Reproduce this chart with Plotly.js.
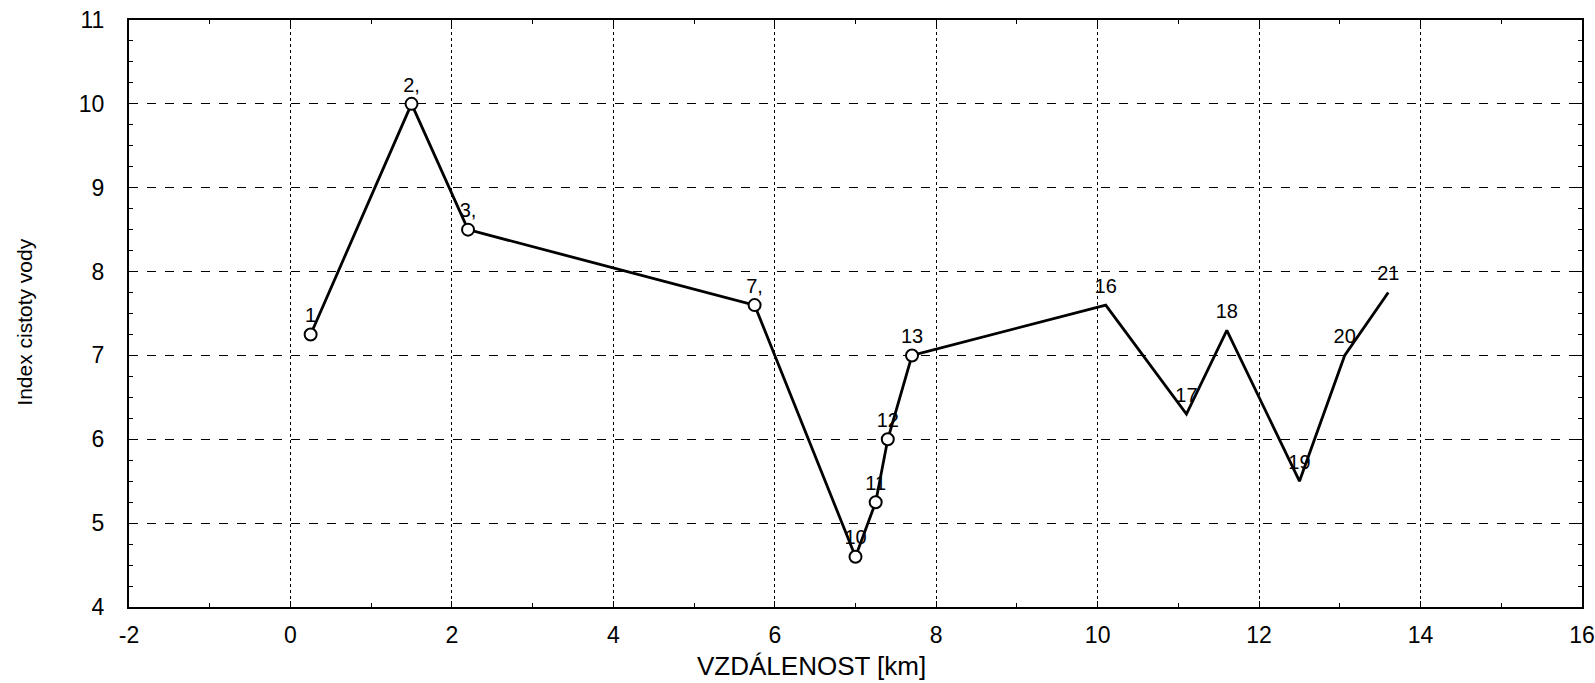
<!DOCTYPE html>
<html>
<head>
<meta charset="utf-8">
<script src="https://cdn.plot.ly/plotly-3.0.1.min.js"></script>
<style>html,body{margin:0;padding:0;background:#fff;}#chart{width:1595px;height:683px;}</style>
</head>
<body>
<div id="chart"></div>
<script>
const distanceKm = [0.25, 1.5, 2.2, 5.75, 7.0, 7.25, 7.4, 7.7, 10.1, 11.1, 11.6, 12.5, 13.06, 13.6];
const waterIndex = [7.25, 10.0, 8.5, 7.6, 4.6, 5.25, 6.0, 7.0, 7.6, 6.3, 7.3, 5.5, 7.0, 7.75];
const pointLabels = ["1", "2,", "3,", "7,", "10", "11", "12", "13", "16", "17", "18", "19", "20", "21"];
const markedCount = 8;
const xTicks = [-2, 0, 2, 4, 6, 8, 10, 12, 14, 16];
const yTicks = [4, 5, 6, 7, 8, 9, 10, 11];
const xTitle = "VZDÁLENOST [km]";
const yTitle = "Index cistoty vody";

const font = {family: "Liberation Sans, Arial, sans-serif", color: "#000"};

const traces = [
  {
    x: distanceKm, y: waterIndex, mode: "lines+markers+text", text: pointLabels,
    textposition: "top center", textfont: {family: font.family, size: 20, color: "#000"},
    marker: {size: 10, opacity: 0},
    line: {color: "#000", width: 2.8}, hoverinfo: "skip", cliponaxis: false
  },
  {
    x: distanceKm.slice(0, markedCount), y: waterIndex.slice(0, markedCount), mode: "markers",
    marker: {symbol: "circle", size: 12, color: "#fff", line: {color: "#000", width: 2}},
    hoverinfo: "skip", cliponaxis: false
  }
];

const axisCommon = {
  showline: true, linecolor: "#000", linewidth: 2, mirror: "allticks",
  ticks: "inside", ticklen: 6, tickcolor: "#000", tickwidth: 1,
  showgrid: true, gridcolor: "#000", gridwidth: 1, automargin: false,
  zeroline: false, tickfont: {family: font.family, size: 23, color: "#000"}
};

const layout = {
  width: 1595, height: 683,
  margin: {l: 129, r: 13, t: 20, b: 76},
  paper_bgcolor: "#fff", plot_bgcolor: "#fff",
  showlegend: false,
  xaxis: Object.assign({}, axisCommon, {
    range: [-2, 16], tickvals: xTicks, ticktext: xTicks.map(String),
    griddash: "dot", ticklabelstandoff: 6,
    minor: {dtick: 1, tick0: -2, ticks: "inside", ticklen: 4, tickcolor: "#000", showgrid: false}
  }),
  yaxis: Object.assign({}, axisCommon, {
    range: [4, 11], tickvals: yTicks, ticktext: yTicks.map(String),
    griddash: "dash", ticklabelstandoff: 18,
    minor: {dtick: 0.25, tick0: 4, ticks: "inside", ticklen: 4, tickcolor: "#000", showgrid: false}
  }),
  annotations: [
    {text: xTitle, xref: "paper", yref: "paper", x: 0.4694, y: -0.1285,
     xanchor: "center", yanchor: "bottom", showarrow: false, borderpad: 0,
     font: {family: font.family, size: 26, color: "#000"}},
    {text: yTitle, xref: "paper", yref: "paper", x: -0.0716, y: 0.486, textangle: -90,
     xanchor: "center", yanchor: "middle", showarrow: false,
     font: {family: font.family, size: 21, color: "#000"}}
  ]
};

Plotly.newPlot("chart", traces, layout, {staticPlot: true, displayModeBar: false});
</script>
</body>
</html>
